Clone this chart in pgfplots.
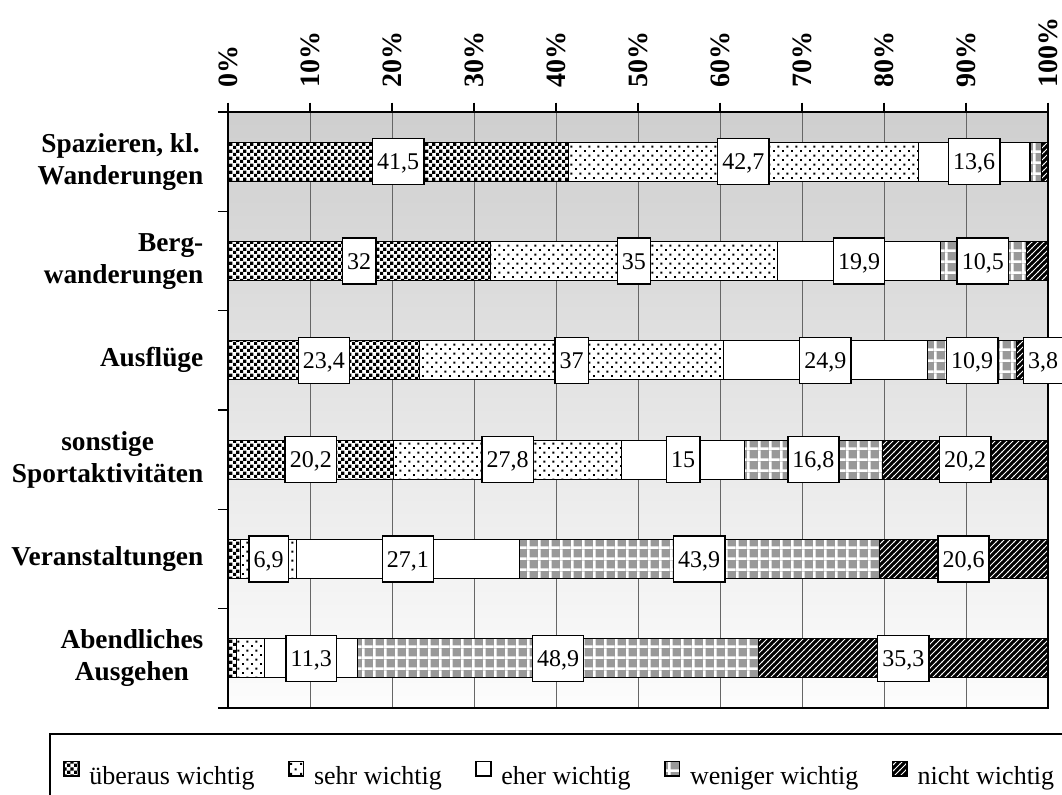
\documentclass[border=0pt]{standalone}
\usepackage{fontspec}
\setmainfont{Liberation Serif}
\usepackage{pgfplots}
\pgfplotsset{compat=1.18}
\usepackage{pgfplotstable}
\usetikzlibrary{patterns}

\pgfdeclarepatternformonly{mychecker}{\pgfqpoint{0pt}{0pt}}{\pgfqpoint{5pt}{5pt}}{\pgfqpoint{5pt}{5pt}}{%
  \pgfpathrectangle{\pgfqpoint{0pt}{0pt}}{\pgfqpoint{2.5pt}{2.5pt}}%
  \pgfpathrectangle{\pgfqpoint{2.5pt}{2.5pt}}{\pgfqpoint{2.5pt}{2.5pt}}%
  \pgfusepath{fill}}
\pgfdeclarepatternformonly{mydots}{\pgfqpoint{0pt}{0pt}}{\pgfqpoint{7pt}{7pt}}{\pgfqpoint{7pt}{7pt}}{%
  \pgfpathrectangle{\pgfqpoint{0pt}{0pt}}{\pgfqpoint{1.6pt}{1.6pt}}%
  \pgfpathrectangle{\pgfqpoint{3.5pt}{3.5pt}}{\pgfqpoint{1.6pt}{1.6pt}}%
  \pgfusepath{fill}}
\pgfdeclarepatternformonly{mygrid}{\pgfqpoint{0pt}{0pt}}{\pgfqpoint{8.5pt}{8.5pt}}{\pgfqpoint{8.5pt}{8.5pt}}{%
  \pgfpathrectangle{\pgfqpoint{0pt}{0pt}}{\pgfqpoint{8.5pt}{2pt}}%
  \pgfpathrectangle{\pgfqpoint{0pt}{0pt}}{\pgfqpoint{2pt}{8.5pt}}%
  \pgfusepath{fill}}
\pgfdeclarepatternformonly{mylines}{\pgfqpoint{-1pt}{-1pt}}{\pgfqpoint{5.5pt}{5.5pt}}{\pgfqpoint{4.5pt}{4.5pt}}{%
  \pgfsetlinewidth{0.7pt}%
  \pgfpathmoveto{\pgfqpoint{-0.5pt}{-0.5pt}}%
  \pgfpathlineto{\pgfqpoint{5pt}{5pt}}%
  \pgfusepath{stroke}}

\definecolor{wgray}{HTML}{999999}

\pgfplotstableread{
x y lab
20.75 0 41,5
62.85 0 42,7
91.0 0 13,6
16.0 1 32
49.5 1 35
76.95 1 19,9
92.05 1 10,5
11.7 2 23,4
41.9 2 37
72.85 2 24,9
90.75 2 10,9
99.4 2 3,8
10.1 3 20,2
34.1 3 27,8
55.5 3 15
71.4 3 16,8
89.9 3 20,2
4.95 4 6,9
21.95 4 27,1
57.45 4 43,9
89.7 4 20,6
10.15 5 11,3
40.25 5 48,9
82.35 5 35,3
}\labeltable

\begin{document}
\begin{tikzpicture}
\useasboundingbox (0,0) rectangle (796.5pt,595.5pt);
\begin{axis}[
  at={(171pt,511.5pt)}, anchor=north west,
  width=615pt, height=447pt, scale only axis,
  xbar stacked, bar width=29.25pt,
  xmin=0, xmax=100, ymin=-0.5, ymax=5.5, y dir=reverse,
  axis background/.style={top color=black!19, bottom color=black!1},
  xtick={0,10,...,100},
  xticklabels={0\%,10\%,20\%,30\%,40\%,50\%,60\%,70\%,80\%,90\%,100\%},
  xtick pos=right, xticklabel pos=right,
  xticklabel style={rotate=90, anchor=west, inner xsep=11pt, font=\fontsize{21}{24}\selectfont\bfseries},
  xmajorgrids, major x grid style={black!60, line width=0.75pt},
  ytick={0,1,2,3,4,5},
  yticklabels={{Spazieren, kl.\\Wanderungen},{\begin{tabular}{@{}r@{}}Berg-\\wanderungen\end{tabular}},{Ausflüge},{sonstige\\Sportaktivitäten},{Veranstaltungen},{Abendliches\\Ausgehen}},
  ytick pos=left,
  yticklabel style={align=center, font=\fontsize{20.5}{24}\selectfont\bfseries, xshift=-8pt},
  minor ytick={-0.5,0.5,1.5,2.5,3.5,4.5,5.5},
  tick align=outside,
  major tick length=7pt, minor tick length=7.5pt,
  xtick style={black, line width=1.2pt},
  minor y tick style={black, line width=1.2pt},
  major y tick style={draw=none},
  axis line style={line width=1.5pt},
  legend columns=5,
  legend style={at={(-0.2183,-0.042)}, anchor=north west, draw=black, line width=1.2pt, fill=white,
    font=\fontsize{19.5}{22}\selectfont, inner xsep=10pt, inner ysep=20pt,
    /tikz/every even column/.append style={column sep=23pt}, cells={anchor=west}},
  legend image code/.code={\draw[#1, line width=1.4pt] (0pt,0.5pt) rectangle (11pt,11.5pt); \path (16.5pt,0pt);},
]
\addplot[draw=black, line width=0.8pt, preaction={fill=white}, pattern=mychecker, pattern color=black]
  coordinates {(41.5,0) (32,1) (23.4,2) (20.2,3) (1.5,4) (1.0,5)};
\addlegendentry{überaus wichtig}
\addplot[draw=black, line width=0.8pt, preaction={fill=white}, pattern=mydots, pattern color=black]
  coordinates {(42.7,0) (35,1) (37,2) (27.8,3) (6.9,4) (3.5,5)};
\addlegendentry{sehr wichtig}
\addplot[draw=black, line width=0.8pt, fill=white]
  coordinates {(13.6,0) (19.9,1) (24.9,2) (15,3) (27.1,4) (11.3,5)};
\addlegendentry{eher wichtig}
\addplot[draw=black, line width=0.8pt, preaction={fill=wgray}, pattern=mygrid, pattern color=white]
  coordinates {(1.4,0) (10.5,1) (10.9,2) (16.8,3) (43.9,4) (48.9,5)};
\addlegendentry{weniger wichtig}
\addplot[draw=black, line width=0.8pt, preaction={fill=black}, pattern=mylines, pattern color=white]
  coordinates {(0.8,0) (2.6,1) (3.8,2) (20.2,3) (20.6,4) (35.3,5)};
\addlegendentry{nicht wichtig}
\end{axis}
\begin{axis}[
  at={(171pt,511.5pt)}, anchor=north west,
  width=615pt, height=447pt, scale only axis,
  xmin=0, xmax=100, ymin=-0.5, ymax=5.5, y dir=reverse,
  hide axis, clip=false,
]
\addplot[only marks, mark=*, mark size=0.01pt, mark options={draw=none, fill=none},
  point meta=explicit symbolic, nodes near coords,
  nodes near coords style={anchor=center, draw=black, fill=white, line width=1.1pt,
    font=\fontsize{18}{20}\selectfont, inner xsep=3.5pt, inner ysep=0pt,
    text height=12pt, text depth=0pt, minimum height=34.5pt}]
  table[x=x, y=y, meta=lab] {\labeltable};
\end{axis}
\end{tikzpicture}
\end{document}
